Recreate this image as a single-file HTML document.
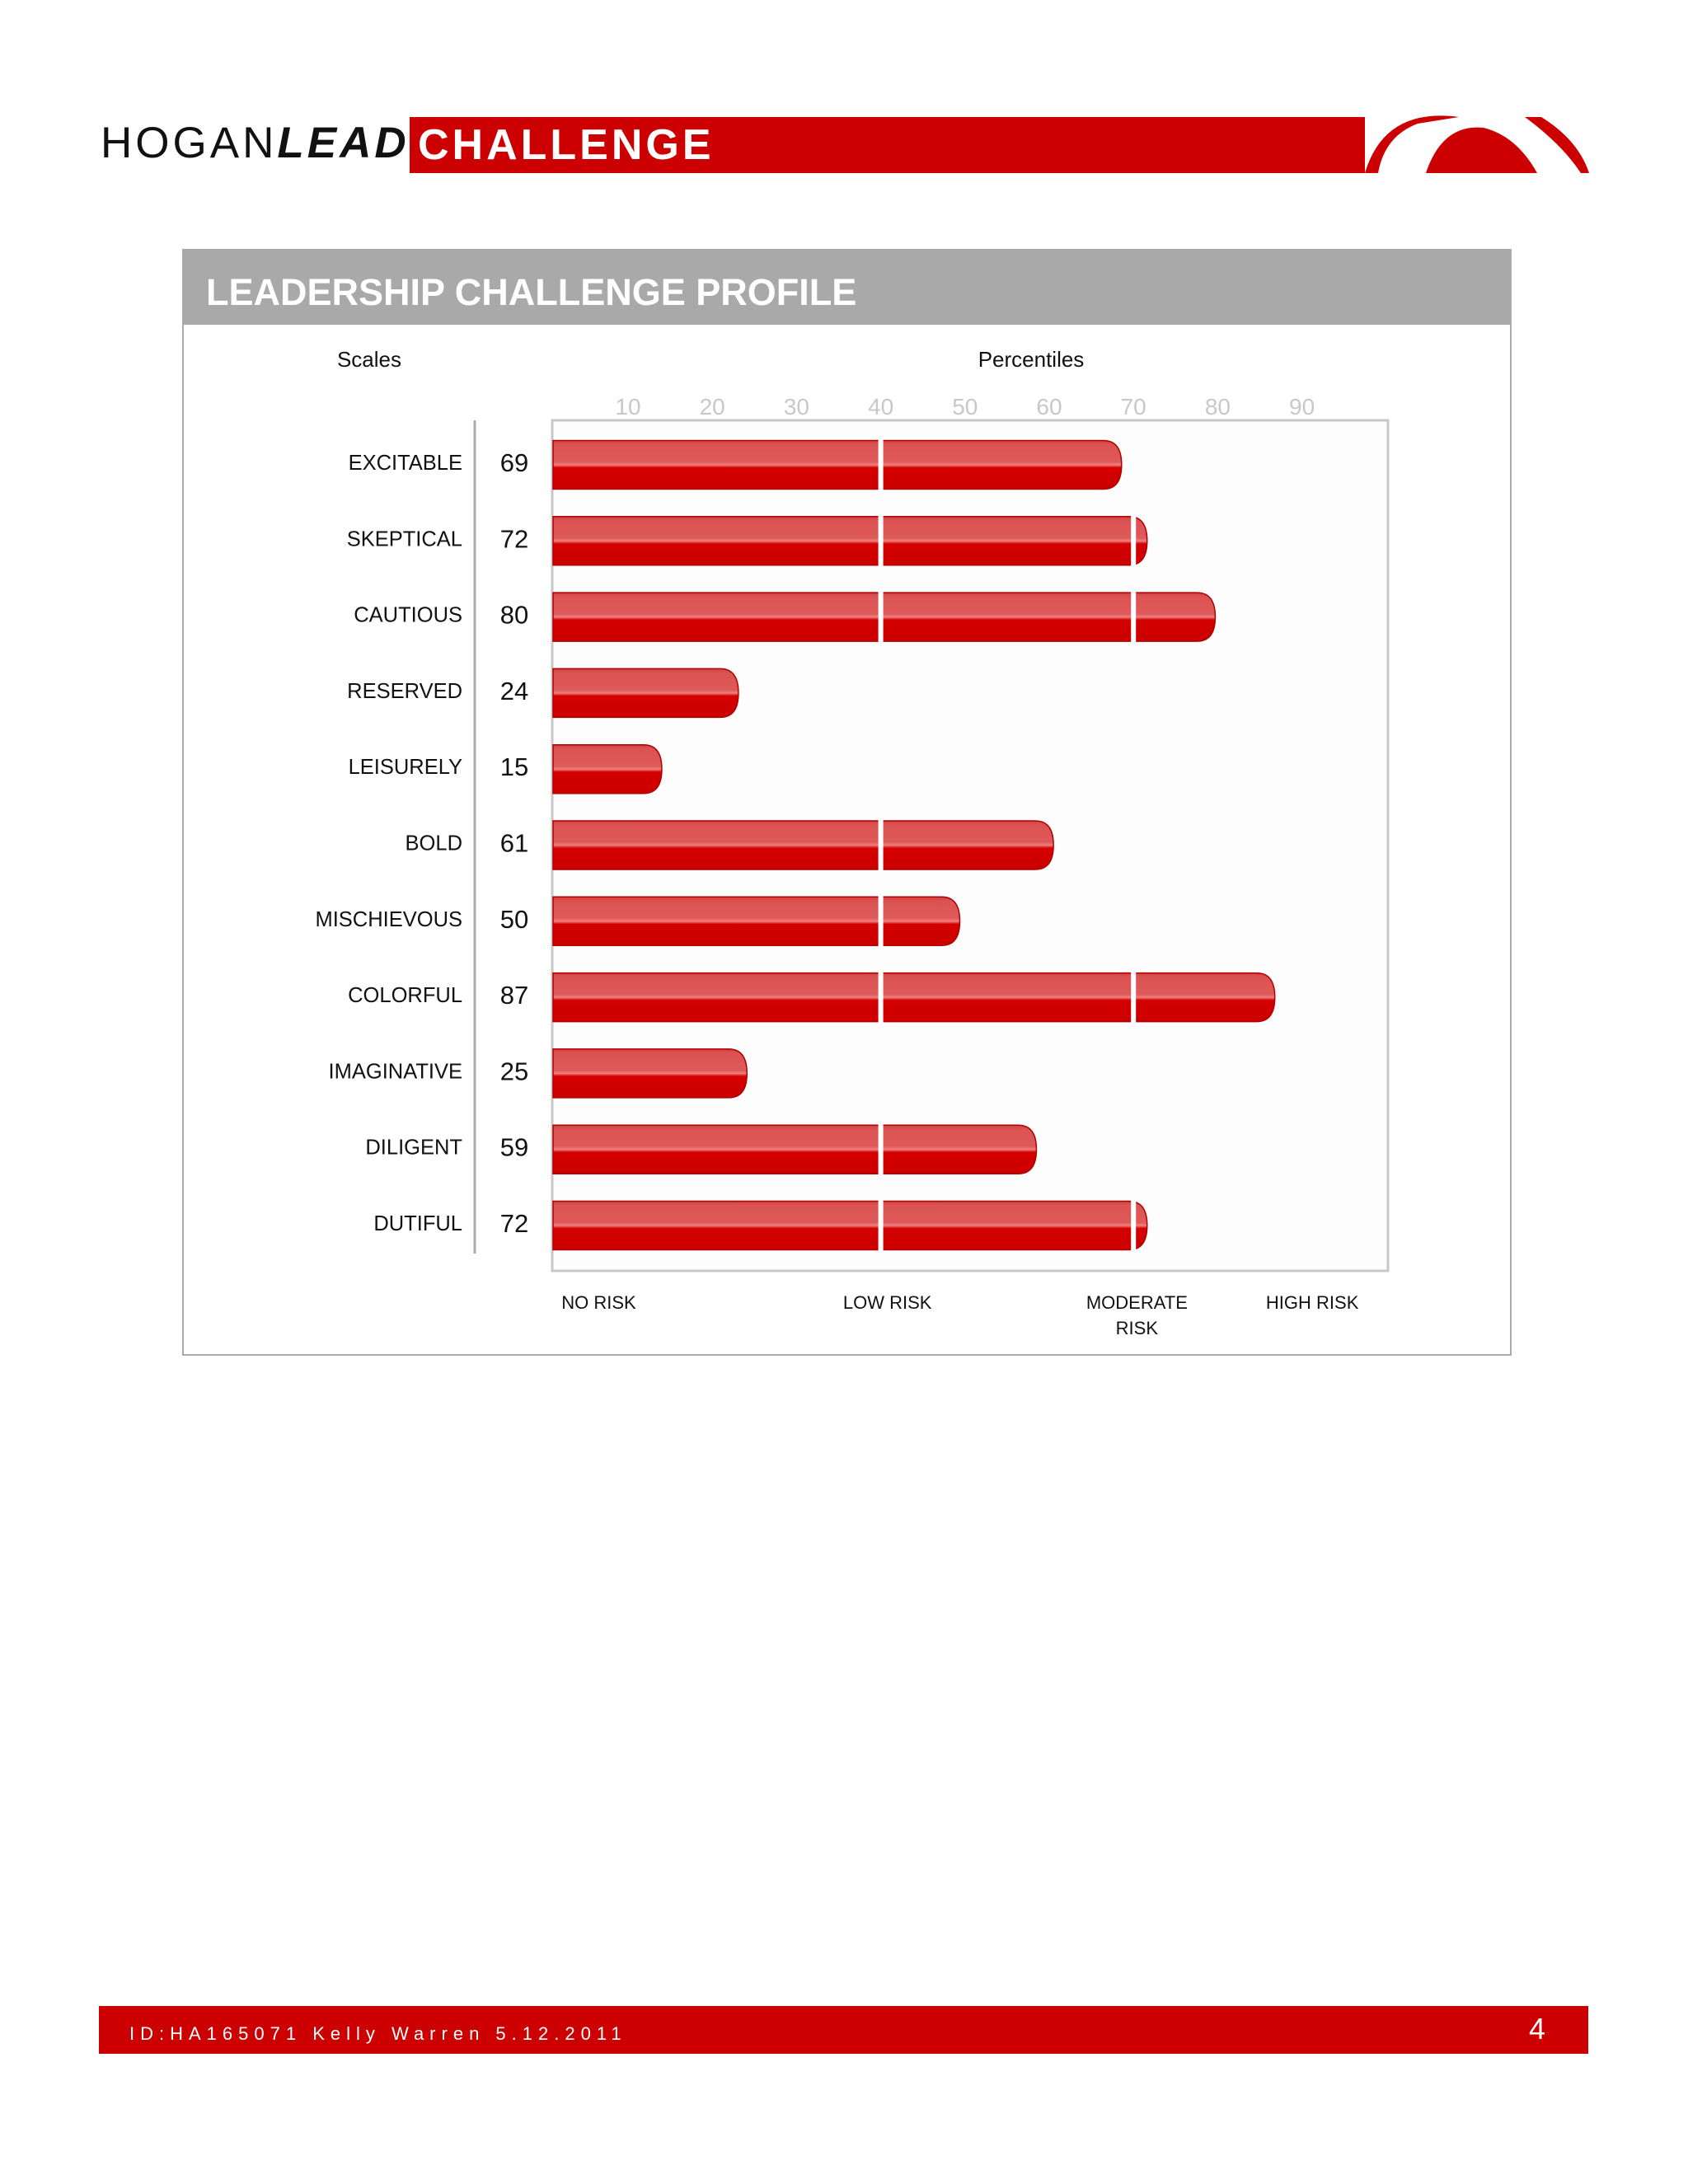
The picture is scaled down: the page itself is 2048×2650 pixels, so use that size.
<!DOCTYPE html>
<html><head><meta charset="utf-8">
<style>
body{margin:0;width:2048px;height:2650px;background:#fff;position:relative;font-family:"Liberation Sans",sans-serif;overflow:hidden}
.abs{position:absolute}
</style></head>
<body>
<div class="abs" style="left:122px;top:146px;font-size:53px;letter-spacing:4px;color:#111;line-height:56px">HOGAN<b><i>LEAD</i></b></div>
<div class="abs" style="left:497px;top:142px;width:1159px;height:68px;background:#cc0000"></div>
<div class="abs" style="left:507px;top:146px;font-size:52px;font-weight:bold;letter-spacing:4px;color:#fff;line-height:60px">CHALLENGE</div>
<svg class="abs" style="left:1650px;top:140px" width="290" height="75">
<path d="M6 70 Q30 -10 120 2 L70 10 Q30 25 22 70 Z" fill="#cc0000"/>
<path d="M80 70 Q100 10 150 15 Q190 25 215 70 Z" fill="#cc0000"/>
<path d="M200 2 L220 2 Q265 30 278 70 L268 70 Q245 35 200 2 Z" fill="#cc0000"/>
</svg>

<div class="abs" style="left:221px;top:302px;width:1609px;height:1339px;border:2px solid #aaa;box-sizing:content-box"></div>
<div class="abs" style="left:221px;top:302px;width:1611px;height:92px;background:#a9a9a9"></div>
<div class="abs" style="left:250px;top:330px;font-size:45px;font-weight:bold;color:#fff;line-height:50px">LEADERSHIP CHALLENGE PROFILE</div>

<svg class="abs" style="left:0;top:0" width="2048" height="2650" id="chart"></svg>

<div class="abs" style="left:120px;top:2434px;width:1807px;height:58px;background:#cc0000"></div>
<div class="abs" style="left:157px;top:2455px;font-size:22px;letter-spacing:7px;color:#fff;line-height:26px">ID:HA165071 Kelly Warren 5.12.2011</div>
<div class="abs" style="left:1855px;top:2442px;font-size:36px;color:#fff;line-height:40px">4</div>

<script>
const categories=["EXCITABLE","SKEPTICAL","CAUTIOUS","RESERVED","LEISURELY","BOLD","MISCHIEVOUS","COLORFUL","IMAGINATIVE","DILIGENT","DUTIFUL"];
const values=[69,72,80,24,15,61,50,87,25,59,72];
const ticks=[10,20,30,40,50,60,70,80,90];
const separators=[40,70];
const riskLabels=[["NO RISK"],["LOW RISK"],["MODERATE","RISK"],["HIGH RISK"]];
const riskPos=[7.6,41.5,70.8,91.4];

const NS="http://www.w3.org/2000/svg";
const svg=document.getElementById('chart');
const x0=671;
const xs=v=>648+v*10.33;
const tickX=v=>762+(v-10)*10.22;
const rowY=i=>561+i*92.3;
const BH=59;
function mk(tag,attrs,parent){const e=document.createElementNS(NS,tag);for(const a in attrs)e.setAttribute(a,attrs[a]);(parent||svg).appendChild(e);return e;}
const defs=mk('defs',{});
const g=mk('linearGradient',{id:'barg',x1:0,y1:0,x2:0,y2:1},defs);
[[0,'#d04040'],[0.08,'#dc5252'],[0.44,'#de5a5a'],[0.5,'#f08080'],[0.56,'#d40000'],[1,'#cc0000']].forEach(s=>mk('stop',{offset:s[0],'stop-color':s[1]},g));

let t=mk('text',{x:448,y:445,'font-size':26,'text-anchor':'middle',fill:'#111'});t.textContent='Scales';


t=mk('text',{x:1251,y:445,'font-size':26,'text-anchor':'middle',fill:'#111'});t.textContent='Percentiles';



ticks.forEach(v=>{const e=mk('text',{x:tickX(v),y:503,'font-size':28,'text-anchor':'middle',fill:'#c8c8c8'});e.textContent=v;

});

let r=mk('rect',{x:670,y:510,width:1014,height:1032,fill:'#fdfdfd',stroke:'#c8c8c8','stroke-width':3});


let l=mk('line',{x1:576,y1:510,x2:576,y2:1521,stroke:'#aaa','stroke-width':3});



categories.forEach((c,i)=>{
  const cy=rowY(i), v=values[i], x1=xs(v), top=cy-BH/2+3;
  const lab=mk('text',{x:561,y:cy+9,'font-size':25.5,'text-anchor':'end',fill:'#111'});lab.textContent=c;
  
  
  const num=mk('text',{x:624,y:cy+11,'font-size':31,'text-anchor':'middle',fill:'#111'});num.textContent=v;
  
  
  const rx=Math.min(22,x1-x0), bc=top+BH/2;
  const d=`M${x0} ${top} H${x1-rx} Q${x1} ${top} ${x1} ${bc} Q${x1} ${top+BH} ${x1-rx} ${top+BH} H${x0} Z`;
  const b=mk('path',{d:d,fill:'url(#barg)',stroke:'#b00000','stroke-width':1.5});
  
  
  separators.forEach(s=>{ if(v>s){const sx=tickX(s);const sl=mk('rect',{x:sx-3,y:top-1,width:6,height:BH+2,fill:'#fff'});
    
    }});
});

riskLabels.forEach((lines,i)=>{lines.forEach((ln,j)=>{const e=mk('text',{x:xs(riskPos[i]),y:1588+j*31,'font-size':22,'text-anchor':'middle',fill:'#111'});e.textContent=ln;
  
  });});
</script>
</body></html>
